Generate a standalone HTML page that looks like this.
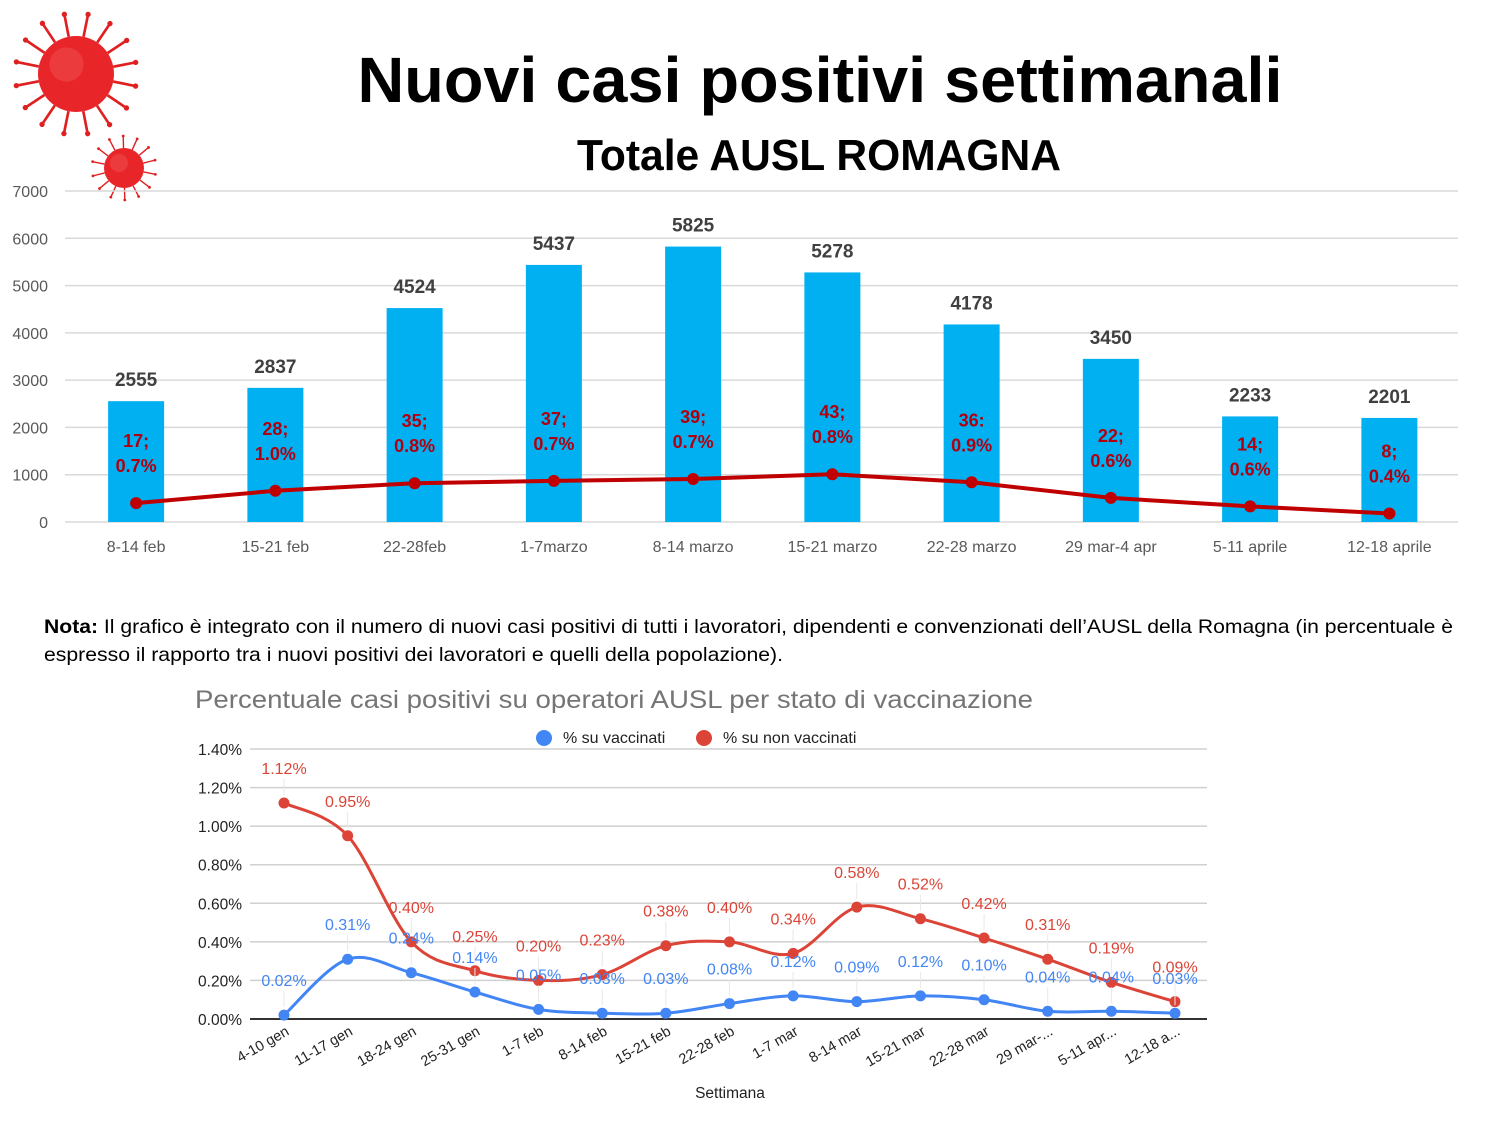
<!DOCTYPE html>
<html><head><meta charset="utf-8"><style>
html,body{margin:0;padding:0;background:#fff;}
svg{display:block;font-family:"Liberation Sans",sans-serif;}
</style></head><body>
<svg id="s" width="1500" height="1125" viewBox="0 0 1500 1125">
<g id="virus"></g>
<text x="820" y="102" text-anchor="middle" font-size="64" font-weight="bold" textLength="925" lengthAdjust="spacingAndGlyphs">Nuovi casi positivi settimanali</text>
<text x="819" y="170" text-anchor="middle" font-size="44" font-weight="bold" textLength="484" lengthAdjust="spacingAndGlyphs">Totale AUSL ROMAGNA</text>
<g id="top"></g>
<text x="44" y="633" font-size="19.5" textLength="1409" lengthAdjust="spacingAndGlyphs"><tspan font-weight="bold">Nota:</tspan> Il grafico è integrato con il numero di nuovi casi positivi di tutti i lavoratori, dipendenti e convenzionati dell’AUSL della Romagna (in percentuale è</text>
<text x="44" y="661" font-size="19.5" textLength="739" lengthAdjust="spacingAndGlyphs">espresso il rapporto tra i nuovi positivi dei lavoratori e quelli della popolazione).</text>
<text x="195" y="708" font-size="25" fill="#757575" textLength="838" lengthAdjust="spacingAndGlyphs">Percentuale casi positivi su operatori AUSL per stato di vaccinazione</text>
<g id="bot"></g>
</svg>
<script>
// ---- top chart data
const topCats = ["8-14 feb","15-21 feb","22-28feb","1-7marzo","8-14 marzo","15-21 marzo","22-28 marzo","29 mar-4 apr","5-11 aprile","12-18 aprile"];
const topCases = [2555,2837,4524,5437,5825,5278,4178,3450,2233,2201];
const workerCases = [17,28,35,37,39,43,36,22,14,8];
const workerPctLabels = ["0.7%","1.0%","0.8%","0.7%","0.7%","0.8%","0.9%","0.6%","0.6%","0.4%"];
const workerSep = [";",";",";",";",";",";",":",";",";",";"];
const workerLine = [400,660,820,870,910,1010,840,510,330,180];
const topTicks = [0,1000,2000,3000,4000,5000,6000,7000];
// ---- bottom chart data
const botCats = ["4-10 gen","11-17 gen","18-24 gen","25-31 gen","1-7 feb","8-14 feb","15-21 feb","22-28 feb","1-7 mar","8-14 mar","15-21 mar","22-28 mar","29 mar-...","5-11 apr...","12-18 a..."];
const vacc = [0.02,0.31,0.24,0.14,0.05,0.03,0.03,0.08,0.12,0.09,0.12,0.10,0.04,0.04,0.03];
const nonVacc = [1.12,0.95,0.40,0.25,0.20,0.23,0.38,0.40,0.34,0.58,0.52,0.42,0.31,0.19,0.09];
const botTicks = [0,0.2,0.4,0.6,0.8,1.0,1.2,1.4];

const NS="http://www.w3.org/2000/svg";
function mk(parent,tag,attrs,text){const e=document.createElementNS(NS,tag);for(const k in attrs)e.setAttribute(k,attrs[k]);if(text!==undefined)e.textContent=text;parent.appendChild(e);return e;}

// virus icons
const vg=document.getElementById('virus');
function virus(cx,cy,r,n){
  const g=mk(vg,'g',{});
  
  
  for(let i=0;i<n;i++){const a=i/n*Math.PI*2+0.2;const x1=cx+Math.cos(a)*r,y1=cy+Math.sin(a)*r,x2=cx+Math.cos(a)*r*1.6,y2=cy+Math.sin(a)*r*1.6;
    mk(g,'line',{x1,y1,x2,y2,stroke:'#e02020','stroke-width':r*0.07});mk(g,'circle',{cx:x2,cy:y2,r:r*0.07,fill:'#e02020'});}
  mk(g,'circle',{cx,cy,r,fill:'#e8262a'});
  mk(g,'circle',{cx:cx-r*0.25,cy:cy-r*0.25,r:r*0.45,fill:'#f05050',opacity:0.5});
}
virus(76,74,38,16);virus(124,168,20,14);

// top chart
const tg=document.getElementById('top');
const tx0=66.5,tbw=139.25,ty0=522,tys=331/7000;
const tX=i=>tx0+tbw*(i+0.5), tY=v=>ty0-v*tys;
topTicks.forEach(t=>{
  const l=mk(tg,'line',{x1:65,x2:1458,y1:tY(t),y2:tY(t),stroke:'#d9d9d9','stroke-width':1.5});
  
  const tt=mk(tg,'text',{x:48,y:tY(t)+6,'text-anchor':'end','font-size':16,fill:'#595959'},t);
  
});
topCases.forEach((v,i)=>{
  const b=mk(tg,'rect',{x:tX(i)-28,y:tY(v),width:56,height:ty0-tY(v),fill:'#00b0f0'});
  
  const lb=mk(tg,'text',{x:tX(i),y:tY(v)-15,'text-anchor':'middle','font-size':19,'font-weight':'bold',fill:'#404040'},v);
  
  const cl=mk(tg,'text',{x:tX(i),y:tY(workerLine[i])-56,'text-anchor':'middle','font-size':18,'font-weight':'bold',fill:'#b00010'},workerCases[i]+workerSep[i]);
  
  const pl=mk(tg,'text',{x:tX(i),y:tY(workerLine[i])-31,'text-anchor':'middle','font-size':18,'font-weight':'bold',fill:'#b00010'},workerPctLabels[i]);
  
  const xl=mk(tg,'text',{x:tX(i),y:552,'text-anchor':'middle','font-size':16,fill:'#595959'},topCats[i]);
  
});
const wl=mk(tg,'polyline',{points:workerLine.map((v,i)=>tX(i)+','+tY(v)).join(' '),fill:'none',stroke:'#c00000','stroke-width':4});

workerLine.forEach((v,i)=>{const c=mk(tg,'circle',{cx:tX(i),cy:tY(v),r:6,fill:'#c00000'});
  });

// bottom chart
const bg=document.getElementById('bot');
const bx0=284,bdx=(1175-284)/14,by0=1019,bys=270/1.4;
const bX=i=>bx0+bdx*i, bY=v=>by0-v*bys;
botTicks.forEach(t=>{
  const l=mk(bg,'line',{x1:250,x2:1207,y1:bY(t),y2:bY(t),stroke:t===0?'#333':'#d0d0d0','stroke-width':t===0?2:1.5});
  
  const tt=mk(bg,'text',{x:242,y:bY(t)+6,'text-anchor':'end','font-size':15.5,fill:'#222'},t.toFixed(2)+'%');
  
});
function smooth(vals){
  const p=vals.map((v,i)=>[bX(i),bY(v)]);let d='M'+p[0][0]+','+p[0][1];
  for(let i=0;i<p.length-1;i++){const p0=p[i-1]||p[i],p1=p[i],p2=p[i+1],p3=p[i+2]||p2;const k=1/6;
    d+=' C'+(p1[0]+(p2[0]-p0[0])*k)+','+(p1[1]+(p2[1]-p0[1])*k)+' '+(p2[0]-(p3[0]-p1[0])*k)+','+(p2[1]-(p3[1]-p1[1])*k)+' '+p2[0]+','+p2[1];}
  return d;
}
[[nonVacc,'#db4437','non-vaccinated'],[vacc,'#4285f4','vaccinated']].forEach(([vals,col,nm])=>{
  const pth=mk(bg,'path',{d:smooth(vals),fill:'none',stroke:col,'stroke-width':3});
  
  vals.forEach((v,i)=>{
    mk(bg,'line',{x1:bX(i),x2:bX(i),y1:bY(v)-8,y2:bY(v)-24,stroke:'#e8e8e8','stroke-width':1});
    const c=mk(bg,'circle',{cx:bX(i),cy:bY(v),r:5.5,fill:col});
    
    const t=mk(bg,'text',{x:bX(i),y:bY(v)-29,'text-anchor':'middle','font-size':16,fill:col},v.toFixed(2)+'%');
    
  });
});
botCats.forEach((c,i)=>{
  const t=mk(bg,'text',{x:bX(i)+6,y:1034,'text-anchor':'end','font-size':14.5,fill:'#222',transform:'rotate(-30 '+(bX(i)+6)+' 1034)'},c);
  
});
const xt=mk(bg,'text',{x:730,y:1098,'text-anchor':'middle','font-size':15.5,fill:'#222'},'Settimana');

const lg1=mk(bg,'g',{});
mk(lg1,'circle',{cx:544,cy:738,r:8,fill:'#4285f4'});mk(lg1,'text',{x:563,y:743,'font-size':16,fill:'#222'},'% su vaccinati');
const lg2=mk(bg,'g',{});
mk(lg2,'circle',{cx:704,cy:738,r:8,fill:'#db4437'});mk(lg2,'text',{x:723,y:743,'font-size':16,fill:'#222'},'% su non vaccinati');
</script>
</body></html>
